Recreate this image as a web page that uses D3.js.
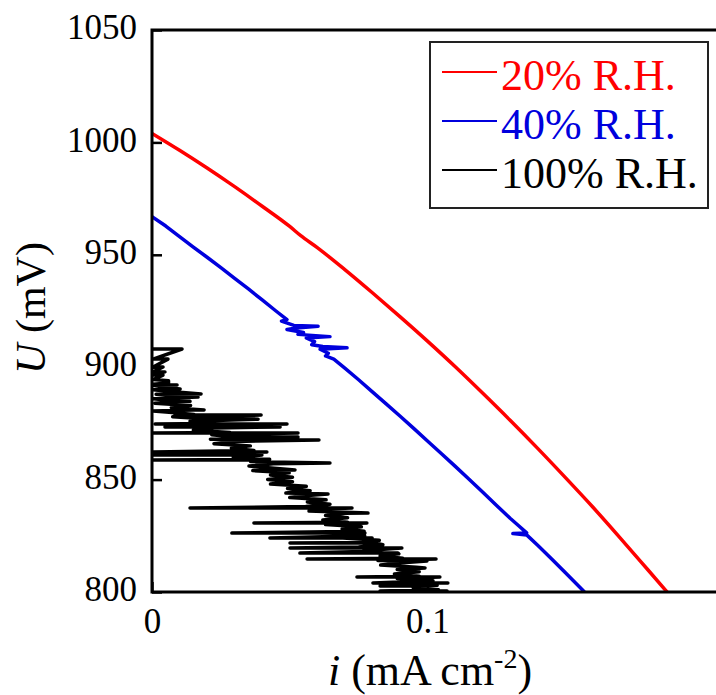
<!DOCTYPE html>
<html><head><meta charset="utf-8">
<script src="https://cdn.jsdelivr.net/npm/d3@7"></script>
<style>body{margin:0;background:#fff} svg{display:block}</style>
</head><body>
<svg id="c" width="716" height="695"></svg>
<script>
// ---------- data ----------
const seriesNames = ["20% R.H.", "40% R.H.", "100% R.H."];
const seriesColors = ["#ff0000", "#0000dd", "#000000"];
const xTicks = [0, 0.1];
const xTickLabels = ["0", "0.1"];
const yTicks = [800, 850, 900, 950, 1000, 1050];

// 20% R.H.
const redI = [0, 0.01, 0.02, 0.028, 0.03, 0.04, 0.05, 0.054, 0.06, 0.07, 0.08, 0.09, 0.10, 0.11, 0.12, 0.13, 0.14, 0.15, 0.16, 0.17, 0.18, 0.187];
const redU = [1004, 996.5, 988.6, 982, 980.3, 971.6, 962.6, 958.5, 953.2, 943.4, 933.1, 922.5, 911.6, 900.3, 888.5, 876.4, 863.9, 851.0, 837.8, 824.0, 809.9, 800];

// 40% R.H. [i, U]
const blueData = [
  [0, 967], [0.005, 962.8], [0.01, 958.1], [0.015, 953.4], [0.02, 948.9], [0.025, 944.3], [0.03, 939.5],
  [0.035, 934.8], [0.04, 929.9], [0.045, 925.0], [0.049, 921.2], [0.047, 920.5], [0.0515, 918.6],
  [0.0603, 918.2], [0.0525, 917.4], [0.049, 916.8], [0.055, 915.4], [0.053, 914.6], [0.0646, 913.6],
  [0.056, 913.0], [0.059, 911.4], [0.058, 910.0], [0.062, 909.2], [0.0708, 908.6], [0.061, 908.0],
  [0.064, 906.2], [0.063, 905.0], [0.066, 903.6], [0.068, 901.6], [0.07, 899.6], [0.075, 894.4],
  [0.08, 889.0], [0.085, 883.7], [0.09, 878.3], [0.095, 872.8], [0.10, 867.2], [0.105, 861.6],
  [0.11, 856.0], [0.115, 850.3], [0.12, 844.5], [0.125, 838.6], [0.13, 832.8], [0.133, 829.6],
  [0.136, 826.3], [0.131, 826.0], [0.136, 825.4], [0.14, 820.8], [0.145, 814.8], [0.15, 808.7],
  [0.157, 800]
];

// 100% R.H. [i, U]
const blackData = [
  [0, 908.1], [0.0109, 908.1], [0.0004, 903.6], [0.0058, 903.6], [0.0004, 900.1], [0.004, 900.1],
  [0.0004, 897.9], [0.0047, 897.9], [0.0004, 896.5], [0.004, 896.5], [0.0004, 894.5], [0.006, 894],
  [0.006, 893], [0.0004, 892.4], [0.0091, 892.1], [0.0004, 892], [0.005, 891], [0.0102, 890.3],
  [0.0004, 890], [0.009, 889], [0.0178, 888.1], [0.0015, 888], [0.009, 887], [0.0167, 886.7],
  [0.0004, 886], [0.009, 885], [0.0138, 884.8], [0.001, 884], [0.014, 883], [0.007, 882],
  [0.0189, 881.0], [0.015, 881], [0.0004, 880.5], [0.0062, 880], [0.0153, 879], [0.0083, 878.7],
  [0.0396, 878.7], [0.0075, 878], [0.0207, 877], [0.0385, 876.9], [0.0138, 876], [0.022, 875],
  [0.0011, 874.7], [0.049, 874.7], [0.0133, 874], [0.0047, 873.4], [0.0465, 873.4], [0.0227, 873],
  [0.015, 872], [0.0283, 871], [0.0004, 870.7], [0.053, 870.7], [0.0217, 870], [0.030, 869],
  [0.053, 868.9], [0.0212, 868], [0.0606, 867.6], [0.0303, 867], [0.0225, 866], [0.0357, 865],
  [0.0288, 864], [0.037, 863], [0.0004, 862.3], [0.0417, 862.3], [0.0282, 862], [0.0373, 861],
  [0.0004, 860.9], [0.0399, 860.9], [0.0295, 860], [0.0427, 859], [0, 858.7], [0.0374, 858.7],
  [0.0358, 858], [0.0646, 857.4], [0.044, 857], [0.0352, 856], [0.0444, 855], [0.0519, 854.3],
  [0.0366, 854], [0.0498, 853], [0.043, 852], [0.051, 851], [0.042, 850], [0.051, 849],
  [0.043, 848], [0.056, 847], [0.0492, 846], [0.0574, 845], [0.0486, 844], [0.0639, 843.6],
  [0.0578, 843], [0.050, 842], [0.0632, 841], [0.0564, 840], [0.0646, 839], [0.0558, 838],
  [0.0138, 837.4], [0.0726, 837.4], [0.065, 837], [0.057, 836], [0.0784, 835.1], [0.070, 835],
  [0.063, 834], [0.071, 833], [0.062, 832], [0.071, 831], [0.037, 830.7], [0.078, 830.7],
  [0.063, 830], [0.076, 829], [0.069, 828], [0.077, 827], [0.029, 826.2], [0.0773, 826.2],
  [0.068, 826], [0.0772, 825], [0.0428, 824.0], [0.0799, 824.0], [0.0693, 824], [0.0825, 823],
  [0.0757, 822], [0.0501, 821.8], [0.0809, 821.8], [0.0838, 821], [0.075, 820], [0.0501, 819.6],
  [0.0907, 819.6], [0.0842, 819], [0.0764, 818], [0.0537, 817.3], [0.0893, 817.3], [0.0896, 817],
  [0.0828, 816], [0.091, 815], [0.0563, 814.7], [0.1031, 814.7], [0.082, 814], [0.0998, 813.8],
  [0.091, 813], [0.083, 812], [0.096, 811], [0.0991, 810.7], [0.089, 810], [0.097, 809],
  [0.088, 808], [0.097, 807], [0.0744, 806.7], [0.1045, 806.7], [0.089, 806], [0.102, 805],
  [0.0802, 804.0], [0.1074, 804.0], [0.095, 804], [0.1035, 803], [0.0828, 802.7], [0.0973, 802.7],
  [0.0948, 802], [0.104, 801], [0.0828, 800.4], [0.1071, 800.4], [0.096, 799.5]
];

// ---------- chart ----------
const svg = d3.select("#c");
svg.append("rect").attr("width", 716).attr("height", 695).attr("fill", "#fff");
const FONT = "'Liberation Serif', 'Times New Roman', serif";

const x = d3.scaleLinear().domain([0, 0.21]).range([152, 730.5]);
const y = d3.scaleLinear().domain([800, 1050]).range([592, 30]);

svg.append("defs").append("clipPath").attr("id", "clip")
  .append("rect").attr("x", x(0)).attr("y", y(1050)).attr("width", x(0.21) - x(0)).attr("height", y(800) - y(1050));

const plot = svg.append("g").attr("clip-path", "url(#clip)");
const smooth = d3.line().x(d => x(d[0])).y(d => y(d[1])).curve(d3.curveMonotoneX);
const straight = d3.line().x(d => x(d[0])).y(d => y(d[1]));

const redData = redI.map((v, k) => [v, redU[k]]);
const series = [redData, blueData, blackData];
const widths = [3.5, 3.5, 3.5];
series.forEach((d, k) => {
  plot.append("path").attr("d", k === 0 ? smooth(d) : straight(d))
    .attr("fill", "none").attr("stroke", seriesColors[k]).attr("stroke-width", widths[k])
    .attr("stroke-linejoin", "round");
});

// axes
const yAxis = d3.axisLeft(y).tickValues(yTicks).tickFormat(d3.format("d"))
  .tickSizeInner(-10).tickSizeOuter(0).tickPadding(15);
svg.append("g").attr("transform", `translate(${x(0)},0)`).call(yAxis)
  .call(g => g.select(".domain").remove())
  .call(g => g.selectAll("line").attr("stroke", "#000").attr("stroke-width", 2.5))
  .call(g => g.selectAll("text").attr("font-family", FONT).attr("font-size", 35).attr("fill", "#000").attr("dy", "0.25em"));

const xAxis = d3.axisBottom(x).tickValues(xTicks).tickFormat((d, k) => xTickLabels[k])
  .tickSizeInner(-10).tickSizeOuter(0).tickPadding(16);
svg.append("g").attr("transform", `translate(0,${y(800)})`).call(xAxis)
  .call(g => g.select(".domain").remove())
  .call(g => g.selectAll("line").attr("stroke", "#000").attr("stroke-width", 2.5))
  .call(g => g.selectAll("text").attr("font-family", FONT).attr("font-size", 35).attr("fill", "#000"));

// frame
svg.append("path")
  .attr("d", `M${x(0.21)},${y(1050)}H${x(0)}V${y(800)}H${x(0.21)}`)
  .attr("fill", "none").attr("stroke", "#000").attr("stroke-width", 3);

// axis titles
const yt = svg.append("text").attr("transform", "translate(45,308) rotate(-90)")
  .attr("text-anchor", "middle").attr("font-family", FONT).attr("font-size", 42).attr("fill", "#000");
yt.append("tspan").attr("font-style", "italic").text("U");
yt.append("tspan").text(" (mV)");

const xt = svg.append("text").attr("x", 430).attr("y", 685)
  .attr("text-anchor", "middle").attr("font-family", FONT).attr("font-size", 44).attr("fill", "#000");
xt.append("tspan").attr("font-style", "italic").text("i");
xt.append("tspan").text(" (mA cm");
xt.append("tspan").attr("font-size", 28).attr("dy", -17).text("-2");
xt.append("tspan").attr("font-size", 44).attr("dy", 17).text(")");

// legend
const lg = svg.append("g");
lg.append("rect").attr("x", 430).attr("y", 42).attr("width", 278).attr("height", 166)
  .attr("fill", "#fff").attr("stroke", "#222").attr("stroke-width", 2);
seriesNames.forEach((name, k) => {
  const ly = 72 + k * 49;
  lg.append("line").attr("x1", 442).attr("x2", 497).attr("y1", ly).attr("y2", ly)
    .attr("stroke", seriesColors[k]).attr("stroke-width", 2);
  lg.append("text").attr("x", 501).attr("y", ly + 17.5).attr("font-family", FONT)
    .attr("font-size", 44).attr("fill", seriesColors[k]).text(name);
});
</script>
</body></html>
